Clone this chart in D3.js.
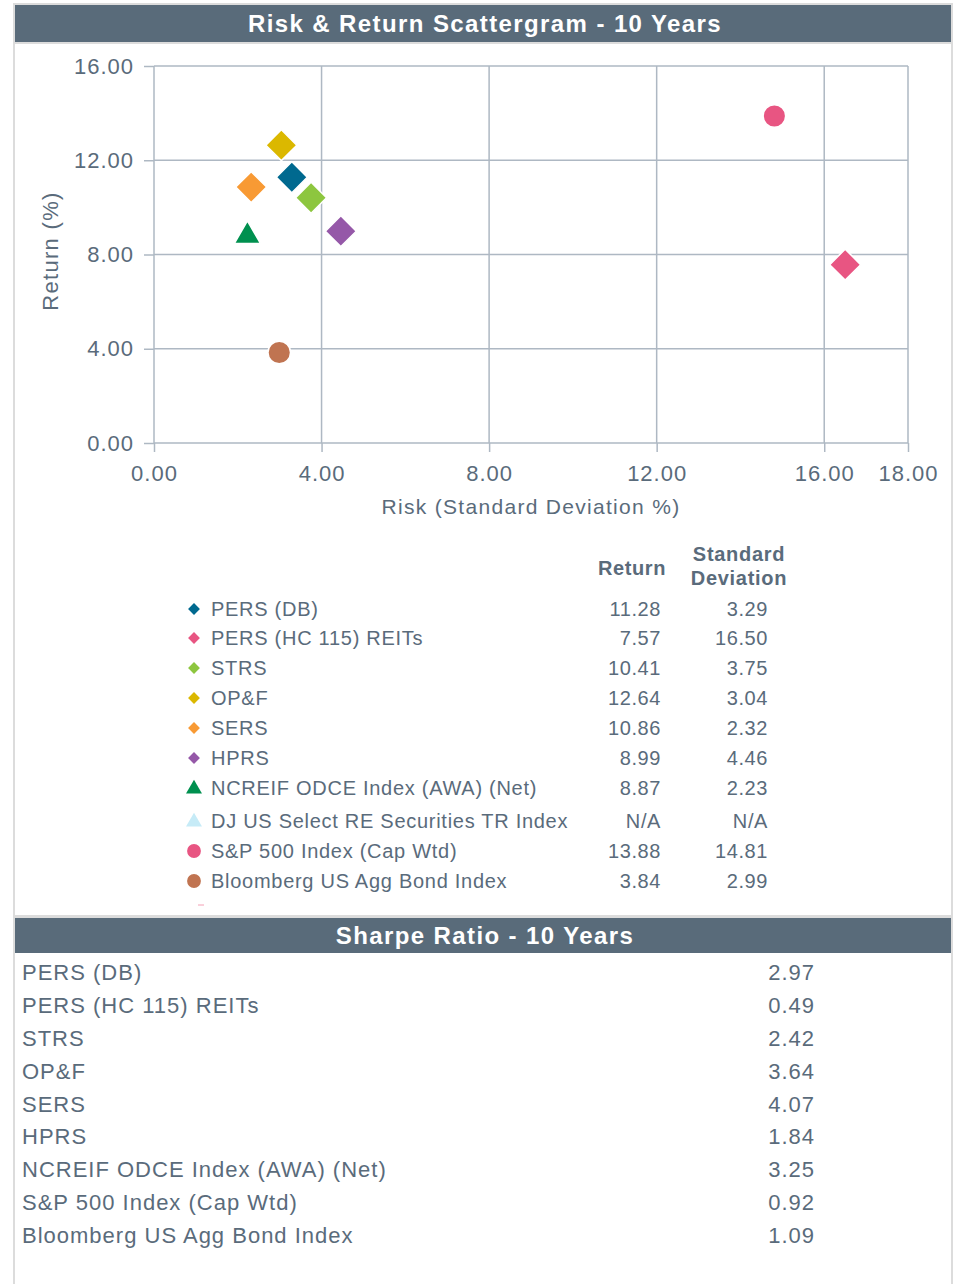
<!DOCTYPE html>
<html><head><meta charset="utf-8">
<script src="https://cdn.jsdelivr.net/npm/d3@7"></script>
<style>
html,body{margin:0;padding:0;background:#fff;}
svg{display:block;font-family:"Liberation Sans",Arial,sans-serif;}
</style></head>
<body><svg id="c" width="957" height="1284"></svg>
<script>
// ---- data ----
const names = ["PERS (DB)","PERS (HC 115) REITs","STRS","OP&F","SERS","HPRS","NCREIF ODCE Index (AWA) (Net)","DJ US Select RE Securities TR Index","S&P 500 Index (Cap Wtd)","Bloomberg US Agg Bond Index"];
const returns = [11.28, 7.57, 10.41, 12.64, 10.86, 8.99, 8.87, null, 13.88, 3.84];
const stdevs  = [3.29, 16.50, 3.75, 3.04, 2.32, 4.46, 2.23, null, 14.81, 2.99];
const shapes  = ["diamond","diamond","diamond","diamond","diamond","diamond","triangle","triangle","circle","circle"];
const colors  = ["#00698f","#e85582","#8dc63f","#dbb800","#f89a34","#9558a8","#00904f","#c6ebf7","#e85582","#c07451"];
const xTicks = [0,4,8,12,16,18];
const yTicks = [0,4,8,12,16];
const sharpeNames  = ["PERS (DB)","PERS (HC 115) REITs","STRS","OP&F","SERS","HPRS","NCREIF ODCE Index (AWA) (Net)","S&P 500 Index (Cap Wtd)","Bloomberg US Agg Bond Index"];
const sharpeValues = [2.97, 0.49, 2.42, 3.64, 4.07, 1.84, 3.25, 0.92, 1.09];

const svg = d3.select("#c");
const txt = "#5a6b7b", grid = "#aeb8c3", hdr = "#596b7a";

// frame
svg.append("rect").attr("x",14).attr("y",4).attr("width",938).attr("height",1290)
  .attr("fill","none").attr("stroke","#dcdcdc").attr("stroke-width",2);
// header 1
svg.append("rect").attr("x",15).attr("y",5).attr("width",936).attr("height",37).attr("fill",hdr);
svg.append("rect").attr("x",15).attr("y",42).attr("width",936).attr("height",2).attr("fill","#dcdcdc");
svg.append("text").attr("x",485).attr("y",32).attr("text-anchor","middle").attr("fill","#fff")
  .attr("font-size",24).attr("letter-spacing",1.4).attr("font-weight","bold").text("Risk & Return Scattergram - 10 Years");

// scales
const x = d3.scaleLinear().domain([0,18]).range([154,908]);
const y = d3.scaleLinear().domain([0,16]).range([443,66]);

// grid
const g = svg.append("g");
g.selectAll(".vg").data(xTicks.filter(d=>d>0)).join("line")
  .attr("x1",d=>x(d)).attr("x2",d=>x(d)).attr("y1",y(16)).attr("y2",y(0))
  .attr("stroke",grid).attr("stroke-width",1.5);
g.selectAll(".hg").data(yTicks.filter(d=>d>0)).join("line")
  .attr("x1",x(0)).attr("x2",x(18)).attr("y1",d=>y(d)).attr("y2",d=>y(d))
  .attr("stroke",grid).attr("stroke-width",1.5);

// axes
const xAxis = svg.append("g").attr("transform",`translate(0,${y(0)})`)
  .call(d3.axisBottom(x).tickValues(xTicks).tickFormat(d3.format(".2f")).tickSize(9).tickPadding(8));
const yAxis = svg.append("g").attr("transform",`translate(${x(0)},0)`)
  .call(d3.axisLeft(y).tickValues(yTicks).tickFormat(d3.format(".2f")).tickSize(10).tickPadding(10));
[xAxis,yAxis].forEach(a=>{
  a.select(".domain").attr("stroke",grid).attr("stroke-width",1.5);
  a.selectAll(".tick line").attr("stroke",grid).attr("stroke-width",1.5);
  a.selectAll(".tick text").attr("fill",txt).attr("font-size",22).attr("letter-spacing",1)
    .attr("font-family","Liberation Sans, Arial, sans-serif");
});
yAxis.select(".domain").attr("d",`M0,${y(0)}V${y(16)}`);
xAxis.select(".domain").attr("d",`M${x(0)},0H${x(18)}`);
yAxis.selectAll(".tick text").attr("dy","0.32em").attr("x",-20);
xAxis.selectAll(".tick text").attr("dy","0.95em");

svg.append("text").attr("transform",`translate(58,251) rotate(-90)`)
  .attr("text-anchor","middle").attr("fill",txt).attr("font-size",22).attr("letter-spacing",1.3).text("Return (%)");
svg.append("text").attr("x",531).attr("y",514).attr("text-anchor","middle")
  .attr("fill",txt).attr("font-size",21).attr("letter-spacing",1.3).text("Risk (Standard Deviation %)");

function sym(shape, size){
  const t = shape==="diamond"?d3.symbolSquare:shape==="triangle"?d3.symbolTriangle:d3.symbolCircle;
  return d3.symbol().type(t).size(size)();
}
// points
const pts = names.map((n,i)=>({n,i,r:returns[i],s:stdevs[i]})).filter(d=>d.r!==null);
svg.append("g").selectAll("path").data(pts).join("path")
  .attr("d",d=>sym(shapes[d.i], shapes[d.i]==="diamond"?480:shapes[d.i]==="triangle"?300:400))
  .attr("transform",d=>`translate(${x(d.s)},${y(d.r)+(shapes[d.i]==="triangle"?2:0)})${shapes[d.i]==="diamond"?" rotate(45)":""}`)
  .attr("fill",d=>colors[d.i]).attr("stroke","#fff").attr("stroke-width",1.5);

// legend table
const rowY = [609,638,668,698,728,758,788,821,851,881];
svg.append("text").attr("x",632).attr("y",575).attr("text-anchor","middle").attr("fill",txt)
  .attr("font-size",20).attr("letter-spacing",0.6).attr("font-weight","bold").text("Return");
svg.append("text").attr("x",739).attr("y",561).attr("text-anchor","middle").attr("fill",txt)
  .attr("font-size",20).attr("letter-spacing",0.7).attr("font-weight","bold").text("Standard");
svg.append("text").attr("x",739).attr("y",585).attr("text-anchor","middle").attr("fill",txt)
  .attr("font-size",20).attr("letter-spacing",0.7).attr("font-weight","bold").text("Deviation");
const lg = svg.append("g").selectAll("g").data(names).join("g")
  .attr("transform",(d,i)=>`translate(0,${rowY[i]})`);
lg.append("path")
  .attr("d",(d,i)=>sym(shapes[i], shapes[i]==="diamond"?70:shapes[i]==="triangle"?110:150))
  .attr("transform",(d,i)=>`translate(194,${shapes[i]==="triangle"?1:0})${shapes[i]==="diamond"?" rotate(45)":""}`)
  .attr("fill",(d,i)=>colors[i]);
lg.append("text").attr("x",211).attr("y",7).attr("fill",txt).attr("font-size",20).attr("letter-spacing",0.72).text(d=>d);
lg.append("text").attr("x",661).attr("y",7).attr("text-anchor","end").attr("fill",txt).attr("font-size",20).attr("letter-spacing",0.6)
  .text((d,i)=>returns[i]===null?"N/A":returns[i].toFixed(2));
lg.append("text").attr("x",768).attr("y",7).attr("text-anchor","end").attr("fill",txt).attr("font-size",20).attr("letter-spacing",0.6)
  .text((d,i)=>stdevs[i]===null?"N/A":stdevs[i].toFixed(2));
svg.append("line").attr("x1",198).attr("x2",204).attr("y1",905).attr("y2",905).attr("stroke","#f4a0b5").attr("stroke-width",1);

// sharpe section
svg.append("rect").attr("x",15).attr("y",915).attr("width",936).attr("height",3).attr("fill","#dcdcdc");
svg.append("rect").attr("x",15).attr("y",918).attr("width",936).attr("height",35).attr("fill",hdr);
svg.append("text").attr("x",485).attr("y",944).attr("text-anchor","middle").attr("fill","#fff")
  .attr("font-size",24).attr("letter-spacing",1.4).attr("font-weight","bold").text("Sharpe Ratio - 10 Years");
const sy = d3.scaleBand().domain(sharpeNames).range([956,1251]);
const sr = svg.append("g").selectAll("g").data(sharpeNames).join("g")
  .attr("transform",d=>`translate(0,${sy(d)+sy.bandwidth()/2})`);
sr.append("text").attr("x",22).attr("y",8).attr("fill",txt).attr("font-size",22).attr("letter-spacing",1.0).text(d=>d);
sr.append("text").attr("x",815).attr("y",8).attr("text-anchor","end").attr("fill",txt).attr("font-size",22).attr("letter-spacing",1)
  .text((d,i)=>sharpeValues[i].toFixed(2));
</script></body></html>
